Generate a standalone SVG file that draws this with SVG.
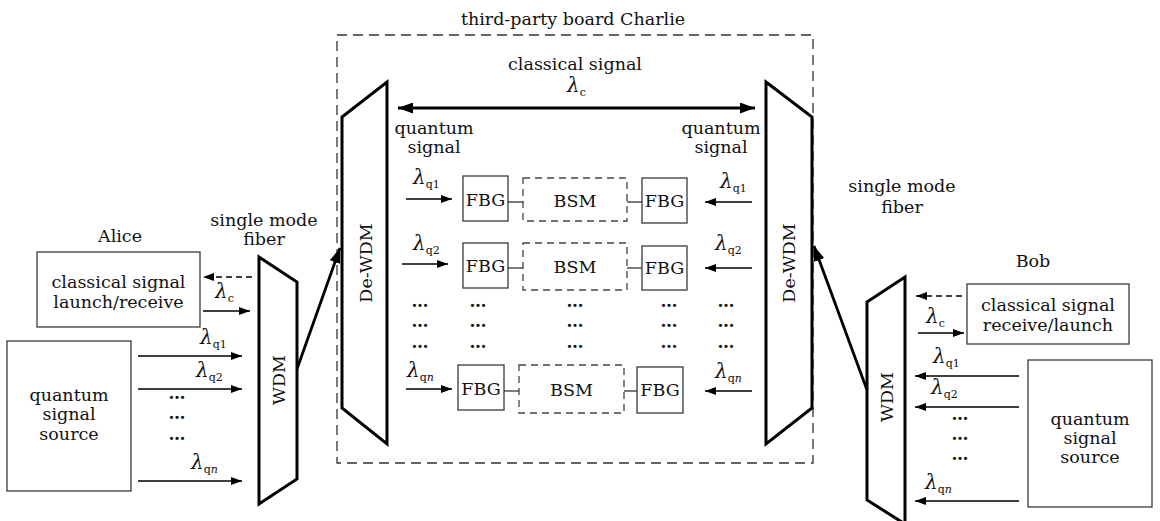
<svg xmlns="http://www.w3.org/2000/svg" width="1160" height="521" viewBox="0 0 1160 521">
<style>
text { font-family: "DejaVu Serif", "Liberation Serif", serif; font-size: 17.5px; fill: #111; }
.c { text-anchor: middle; }
.lam { font-size: 20px; font-style: italic; }
.sub { font-size: 11px; font-style: normal; }
.subi { font-size: 11px; font-style: italic; }
.dots { font-size: 17px; font-weight: bold; text-anchor: middle; }
.box { fill: #fff; stroke: #3a3a3a; stroke-width: 1.3; }
.dbox { fill: none; stroke: #444; stroke-width: 1.3; stroke-dasharray: 7 5; }
.frame { fill: none; stroke: #333; stroke-width: 1.3; stroke-dasharray: 10 6; }
.wdm { fill: #fff; stroke: #000; stroke-width: 3; stroke-linejoin: miter; }
.arr { stroke: #000; stroke-width: 1.5; fill: none; marker-end: url(#ah); }
.darr { stroke: #000; stroke-width: 1.5; fill: none; stroke-dasharray: 6 4; marker-end: url(#ah); }
.thick { stroke: #000; stroke-width: 2.8; fill: none; marker-end: url(#big); }
.link { stroke: #333; stroke-width: 1.3; }
</style>
<defs>
<marker id="ah" markerUnits="userSpaceOnUse" markerWidth="11" markerHeight="8" refX="11" refY="4" orient="auto">
<path d="M0,0 L11,4 L0,8 z" fill="#000"/>
</marker>
<marker id="big" markerUnits="userSpaceOnUse" markerWidth="15" markerHeight="11" refX="15" refY="5.5" orient="auto-start-reverse">
<path d="M0,0 L15,5.5 L0,11 z" fill="#000"/>
</marker>
</defs>

<g id="charlie-frame">
<rect class="frame" x="337" y="35" width="476" height="428"/>
<text class="c" x="573" y="25">third-party board Charlie</text>
</g>

<g id="alice-label"><text class="c" x="120" y="242">Alice</text></g>
<g id="bob-label"><text class="c" x="1033" y="267">Bob</text></g>

<g id="alice-classical">
<rect class="box" x="37" y="252" width="163" height="75"/>
<text class="c" x="118.5" y="288">classical signal</text>
<text class="c" x="118.5" y="308">launch/receive</text>
</g>
<g id="alice-quantum">
<rect class="box" x="7" y="341" width="124" height="150"/>
<text class="c" x="69" y="401">quantum</text>
<text class="c" x="69" y="420">signal</text>
<text class="c" x="69" y="440">source</text>
</g>

<g id="wdm-left">
<polygon class="wdm" points="259,257 297,282 297,479 259,504"/>
<text class="c" transform="translate(285,380) rotate(-90)">WDM</text>
</g>
<g id="fiber-left-label">
<text class="c" x="264" y="226">single mode</text>
<text class="c" x="264" y="245">fiber</text>
</g>

<g id="dewdm-left">
<polygon class="wdm" points="342,117 387,82 387,444 342,408"/>
<text class="c" transform="translate(372,263) rotate(-90)">De-WDM</text>
</g>
<g id="dewdm-right">
<polygon class="wdm" points="766,82 812,117 812,408 766,444"/>
<text class="c" transform="translate(795,263) rotate(-90)">De-WDM</text>
</g>

<g id="wdm-right">
<polygon class="wdm" points="867,302 905,277 905,524 867,500"/>
<text class="c" transform="translate(893,397) rotate(-90)">WDM</text>
</g>
<g id="fiber-right-label">
<text class="c" x="902" y="192">single mode</text>
<text class="c" x="902" y="213">fiber</text>
</g>

<g id="bob-classical">
<rect class="box" x="967" y="284" width="162" height="60"/>
<text class="c" x="1048" y="311">classical signal</text>
<text class="c" x="1048" y="331">receive/launch</text>
</g>
<g id="bob-quantum">
<rect class="box" x="1028" y="360" width="124" height="147"/>
<text class="c" x="1090" y="425">quantum</text>
<text class="c" x="1090" y="444">signal</text>
<text class="c" x="1090" y="463">source</text>
</g>

<g id="classical-label">
<text class="c" x="575" y="70">classical signal</text>
<text class="lam" x="567" y="92">λ<tspan class="sub" dy="4">c</tspan></text>
</g>
<g id="quantum-label-left">
<text class="c" x="434" y="134">quantum</text>
<text class="c" x="434" y="153">signal</text>
</g>
<g id="quantum-label-right">
<text class="c" x="721" y="134">quantum</text>
<text class="c" x="721" y="153">signal</text>
</g>

<g id="fbg-l1"><rect class="box" x="463" y="176" width="45" height="45"/><text class="c" x="485.5" y="206">FBG</text></g>
<g id="bsm-1"><rect class="dbox" x="523" y="178" width="104" height="43"/><text class="c" x="575" y="207">BSM</text></g>
<g id="fbg-r1"><rect class="box" x="642" y="178" width="45" height="45"/><text class="c" x="664.5" y="207">FBG</text></g>
<g id="fbg-l2"><rect class="box" x="463" y="243" width="45" height="45"/><text class="c" x="485.5" y="272">FBG</text></g>
<g id="bsm-2"><rect class="dbox" x="523" y="243" width="104" height="47"/><text class="c" x="575" y="273">BSM</text></g>
<g id="fbg-r2"><rect class="box" x="642" y="246" width="45" height="44"/><text class="c" x="664.5" y="274">FBG</text></g>
<g id="fbg-ln"><rect class="box" x="458" y="365" width="46" height="45"/><text class="c" x="481" y="395">FBG</text></g>
<g id="bsm-n"><rect class="dbox" x="519" y="365" width="105" height="48"/><text class="c" x="571.5" y="396">BSM</text></g>
<g id="fbg-rn"><rect class="box" x="637" y="367" width="46" height="46"/><text class="c" x="660" y="396">FBG</text></g>

<g id="dots">
<text class="dots" x="177" y="399">…</text>
<text class="dots" x="177" y="419">…</text>
<text class="dots" x="177" y="440">…</text>
<text class="dots" x="960" y="420">…</text>
<text class="dots" x="960" y="440">…</text>
<text class="dots" x="960" y="460">…</text>
<text class="dots" x="420" y="307">…</text><text class="dots" x="478" y="307">…</text><text class="dots" x="575" y="307">…</text><text class="dots" x="669" y="307">…</text><text class="dots" x="726" y="307">…</text>
<text class="dots" x="420" y="327">…</text><text class="dots" x="478" y="327">…</text><text class="dots" x="575" y="327">…</text><text class="dots" x="669" y="327">…</text><text class="dots" x="726" y="327">…</text>
<text class="dots" x="420" y="348">…</text><text class="dots" x="478" y="348">…</text><text class="dots" x="575" y="348">…</text><text class="dots" x="669" y="348">…</text><text class="dots" x="726" y="348">…</text>
</g>

<g id="connectors">
<line class="darr" x1="252" y1="277" x2="203" y2="277"/>
<line class="arr" x1="203" y1="311" x2="250" y2="311"/>
<line class="arr" x1="138" y1="356" x2="242" y2="356"/>
<line class="arr" x1="138" y1="389" x2="242" y2="389"/>
<line class="arr" x1="138" y1="481" x2="242" y2="481"/>
<line class="thick" x1="297" y1="369" x2="340" y2="248"/>
<line class="thick" x1="867" y1="390" x2="814" y2="246"/>
<line class="thick" x1="398" y1="108" x2="755" y2="108" marker-start="url(#big)"/>
<line class="arr" x1="406" y1="199" x2="452" y2="199"/>
<line class="arr" x1="752" y1="202" x2="705" y2="202"/>
<line class="arr" x1="402" y1="264" x2="448" y2="264"/>
<line class="arr" x1="752" y1="268" x2="705" y2="268"/>
<line class="arr" x1="406" y1="389" x2="452" y2="389"/>
<line class="arr" x1="752" y1="391" x2="705" y2="391"/>
<line class="link" x1="508" y1="202" x2="523" y2="202"/>
<line class="link" x1="627" y1="202" x2="642" y2="202"/>
<line class="link" x1="508" y1="268" x2="523" y2="268"/>
<line class="link" x1="627" y1="268" x2="642" y2="268"/>
<line class="link" x1="504" y1="391" x2="519" y2="391"/>
<line class="link" x1="624" y1="391" x2="637" y2="391"/>
<line class="darr" x1="962" y1="296" x2="916" y2="296"/>
<line class="arr" x1="918" y1="333" x2="964" y2="333"/>
<line class="arr" x1="1019" y1="376" x2="915" y2="376"/>
<line class="arr" x1="1019" y1="407" x2="915" y2="407"/>
<line class="arr" x1="1019" y1="501" x2="915" y2="501"/>
</g>

<g id="lambda-labels">
<text class="lam" x="215" y="298">λ<tspan class="sub" dy="4">c</tspan></text>
<text class="lam" x="200" y="344">λ<tspan class="sub" dy="4">q1</tspan></text>
<text class="lam" x="196" y="377">λ<tspan class="sub" dy="4">q2</tspan></text>
<text class="lam" x="191" y="469">λ<tspan class="sub" dy="4">q</tspan><tspan class="subi">n</tspan></text>
<text class="lam" x="413" y="184">λ<tspan class="sub" dy="4">q1</tspan></text>
<text class="lam" x="413" y="250">λ<tspan class="sub" dy="4">q2</tspan></text>
<text class="lam" x="407" y="377">λ<tspan class="sub" dy="4">q</tspan><tspan class="subi">n</tspan></text>
<text class="lam" x="720" y="188">λ<tspan class="sub" dy="4">q1</tspan></text>
<text class="lam" x="715" y="250">λ<tspan class="sub" dy="4">q2</tspan></text>
<text class="lam" x="715" y="378">λ<tspan class="sub" dy="4">q</tspan><tspan class="subi">n</tspan></text>
<text class="lam" x="926" y="323">λ<tspan class="sub" dy="4">c</tspan></text>
<text class="lam" x="933" y="363">λ<tspan class="sub" dy="4">q1</tspan></text>
<text class="lam" x="931" y="394">λ<tspan class="sub" dy="4">q2</tspan></text>
<text class="lam" x="925" y="489">λ<tspan class="sub" dy="4">q</tspan><tspan class="subi">n</tspan></text>
</g>
</svg>
